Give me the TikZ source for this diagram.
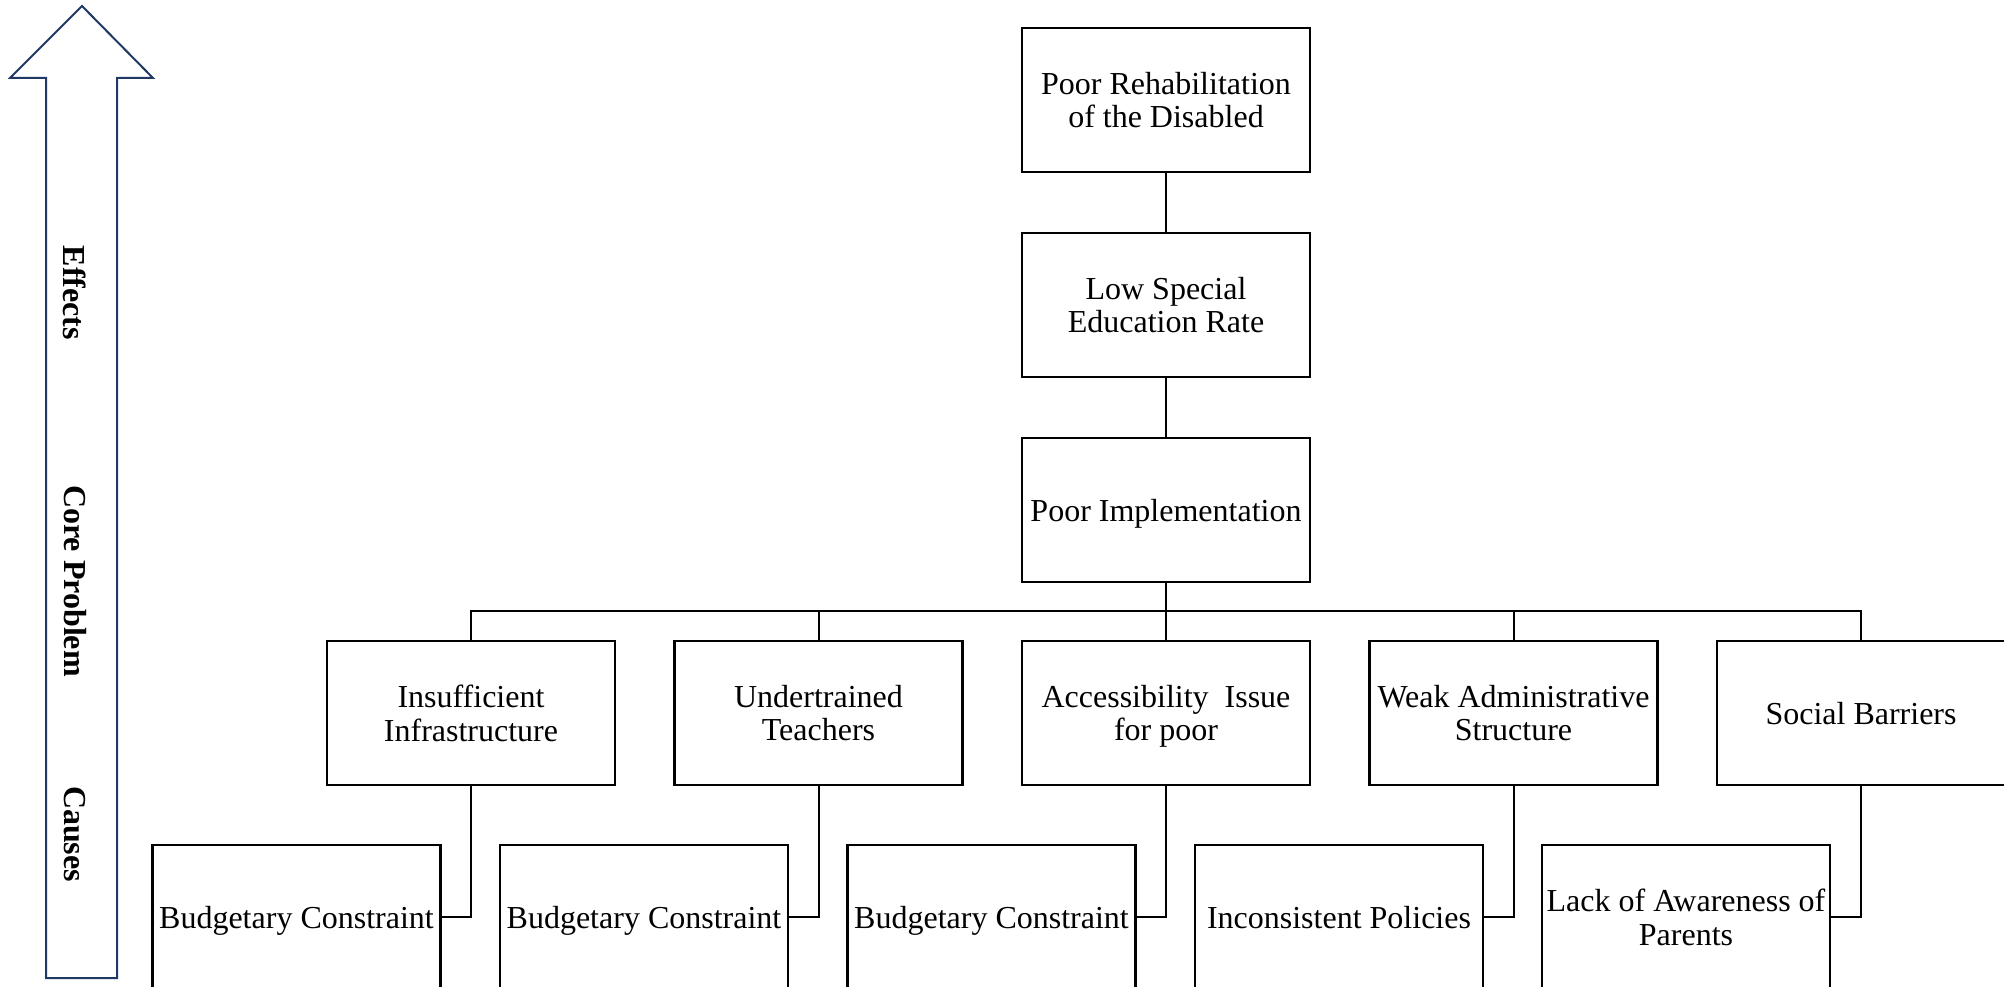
\documentclass[tikz,border=0pt]{standalone}
\usepackage{fontspec}
\setmainfont{Liberation Serif}
\definecolor{arrowblue}{HTML}{203864}
\begin{document}
\begin{tikzpicture}[x=1pt,y=-1pt,
  box/.style={draw=black, fill=white, line width=2.5pt, minimum width=288pt, minimum height=144pt,
    inner sep=2pt, align=center, text depth=0pt, font=\fontsize{32}{33.5}\selectfont},
  link/.style={draw=black, line width=2pt},
  side/.style={rotate=-90, inner sep=0pt, font=\bfseries\fontsize{32}{34}\selectfont}]
\useasboundingbox (0,0) rectangle (2004,987);
\clip (0,0) rectangle (2004,987);
% big arrow
\draw[arrowblue, line width=2pt, line join=miter]
  (82,6) -- (153,78) -- (117,78) -- (117,978) -- (46,978) -- (46,78) -- (10,78) -- cycle;
\node[side] (effects) at (75,293) {Effects};
\node[side] (coreprob) at (75,581) {Core Problem};
\node[side] (causes) at (75,834) {Causes};
% top chain
\node[box] (r1) at (1166,100) {Poor Rehabilitation\\of the Disabled};
\node[box] (r2) at (1166,305) {Low Special\\Education Rate};
\node[box] (core) at (1166,510) {Poor Implementation};
% causes
\node[box] (c1) at (471,713) {Insufficient\\Infrastructure};
\node[box] (c2) at (818.5,713) {Undertrained\\Teachers};
\node[box] (c3) at (1166,713) {Accessibility~ Issue\\for poor};
\node[box] (c4) at (1513.5,713) {Weak Administrative\\Structure};
\node[box] (c5) at (1861,713) {Social Barriers};
% sub-causes
\node[box] (d1) at (296.5,917) {Budgetary Constraint};
\node[box] (d2) at (644,917) {Budgetary Constraint};
\node[box] (d3) at (991.5,917) {Budgetary Constraint};
\node[box] (d4) at (1339,917) {Inconsistent Policies};
\node[box] (d5) at (1686,917) {Lack of Awareness of\\Parents};
% connectors
\coordinate (bus) at (1166,611);
\draw[link] (r1.south) -- (r2.north);
\draw[link] (r2.south) -- (core.north);
\draw[link] (core.south) -- (c3.north);
\draw[link] (c1.north) -- (c1.north |- bus) -- (c5.north |- bus) -- (c5.north);
\draw[link] (c2.north) -- (c2.north |- bus);
\draw[link] (c4.north) -- (c4.north |- bus);
\draw[link] (c1.south) |- (d1.east);
\draw[link] (c2.south) |- (d2.east);
\draw[link] (c3.south) |- (d3.east);
\draw[link] (c4.south) |- (d4.east);
\draw[link] (c5.south) |- (d5.east);
\end{tikzpicture}
\end{document}
